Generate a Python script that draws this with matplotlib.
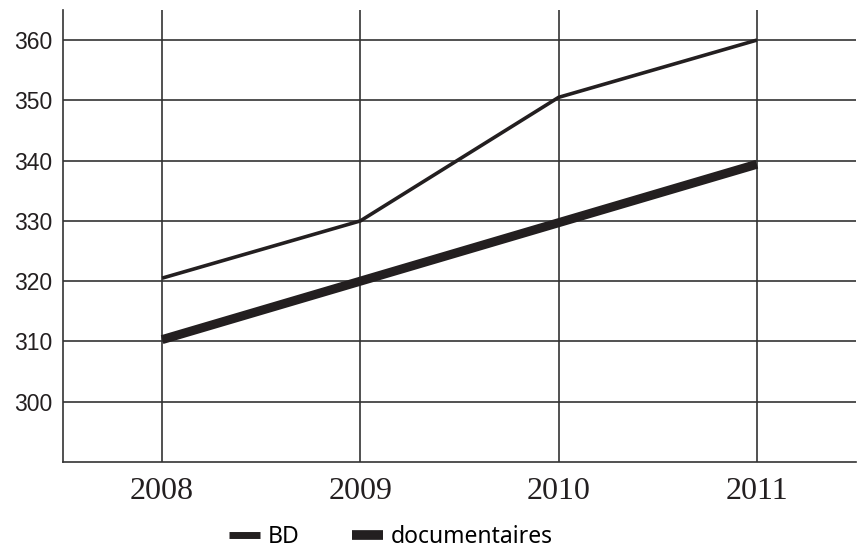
import matplotlib.pyplot as plt
import numpy as np

years = ["2008", "2009", "2010", "2011"]
bd = [320.5, 330, 350.5, 360]
documentaires = [310.3, 320, 329.7, 339.4]
yticks = [300, 310, 320, 330, 340, 350, 360]

ink = "#231f20"
grid = "#333333"

fig = plt.figure(figsize=(8.59, 5.53), dpi=100)
ax = fig.add_axes([0.0733, 0.1646, 0.9232, 0.8174])

x = np.arange(len(years))
ax.plot(x, bd, color=ink, lw=2.6, solid_capstyle="butt", label="BD", zorder=3)
ax.plot(x, documentaires, color=ink, lw=6.5, solid_capstyle="butt",
        label="documentaires", zorder=3)

ax.set_xlim(-0.5, 3.5)
ax.set_ylim(290, 365)
ax.set_xticks(x)
ax.set_xticklabels(years, family="Liberation Serif", fontsize=23)
ax.set_yticks(yticks)
ax.set_yticklabels([str(v) for v in yticks], family="Liberation Sans", fontsize=16.5)
ax.tick_params(axis="both", length=0, colors=ink)
ax.tick_params(axis="x", pad=11)
ax.tick_params(axis="y", pad=8)

ax.grid(True, color=grid, lw=1.2)
ax.set_axisbelow(True)
for s in ["top", "right"]:
    ax.spines[s].set_visible(False)
for s in ["left", "bottom"]:
    ax.spines[s].set_color(grid)
    ax.spines[s].set_linewidth(1.2)

leg = fig.legend(loc="lower center", bbox_to_anchor=(0.455, -0.03), ncol=2,
                 frameon=False, handlelength=1.35, handletextpad=0.35,
                 columnspacing=2.3, prop={"family": "Noto Sans", "size": 16.5})
for h, w in zip(leg.get_lines(), [5, 7]):
    h.set_linewidth(w)
    h.set_solid_capstyle("butt")

fig.savefig("out.png", dpi=100)
